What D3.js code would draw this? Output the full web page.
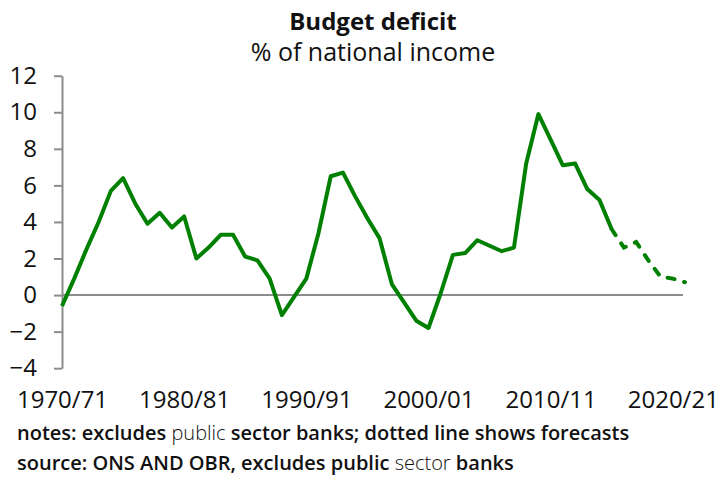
<!DOCTYPE html>
<html>
<head>
<meta charset="utf-8">
<script src="https://cdn.jsdelivr.net/npm/d3@7"></script>
<style>
  body { margin: 0; background: #fff; }
  text { font-family: "Open Sans", sans-serif; fill: #111; }
</style>
</head>
<body>
<div id="chart"></div>
<script>
// financial years, labelled by their first calendar year (1970 = 1970/71)
var years = d3.range(1970, 2022);

// outturn, 1970/71 - 2015/16
var actual = [
  -0.6, 0.9, 2.5, 4.0, 5.7, 6.4, 5.0, 3.9, 4.5, 3.7,
  4.3, 2.0, 2.6, 3.3, 3.3, 2.1, 1.9, 0.9, -1.1, -0.1,
  0.9, 3.4, 6.5, 6.7, 5.4, 4.2, 3.1, 0.6, -0.4, -1.4,
  -1.8, 0.1, 2.2, 2.3, 3.0, 2.7, 2.4, 2.6, 7.2, 9.9,
  8.5, 7.1, 7.2, 5.8, 5.2, 3.6
];

// OBR forecast, 2015/16 (joins the outturn) - 2021/22
var forecast = [3.6, 2.6, 2.9, 1.9, 1.0, 0.9, 0.7];

var yTicks = [-4, -2, 0, 2, 4, 6, 8, 10, 12];
var xTicks = [1970, 1980, 1990, 2000, 2010, 2020];

var width = 717,
  height = 481;

var svg = d3.select("#chart").append("svg")
  .attr("width", width)
  .attr("height", height);

var x = d3.scaleLinear().domain([1970, 2021]).range([62, 685]),
  y = d3.scaleLinear().domain([-4, 12]).range([368.2, 75.7]);

// titles
svg.append("text")
  .attr("x", 373).attr("y", 30)
  .attr("text-anchor", "middle")
  .style("font-size", "24px")
  .style("font-weight", "700")
  .text("Budget deficit");

svg.append("text")
  .attr("x", 373).attr("y", 61)
  .attr("text-anchor", "middle")
  .style("font-size", "25px")
  .text("% of national income");

// y axis
var yAxis = svg.append("g")
  .attr("transform", "translate(" + x(1970) + ",0)")
  .call(d3.axisLeft(y).tickValues(yTicks).tickSize(8).tickPadding(17).tickSizeOuter(0));

yAxis.selectAll("path, line").attr("stroke", "#8c8c8c").attr("stroke-width", 2);
yAxis.selectAll("text")
  .style("font-size", "24px")
  .style("font-family", "'Open Sans', sans-serif")
  .attr("fill", "#111");

// zero line
svg.append("line")
  .attr("x1", x(1970)).attr("x2", 683)
  .attr("y1", y(0)).attr("y2", y(0))
  .attr("stroke", "#8c8c8c")
  .attr("stroke-width", 2);

// x labels, no ticks
var xAxis = svg.append("g")
  .attr("transform", "translate(0,391)")
  .call(d3.axisBottom(x).tickValues(xTicks).tickSize(0).tickPadding(0)
    .tickFormat(function(d) {
      return d + "/" + d3.format("02")((d + 1) % 100);
    }));

xAxis.select(".domain").remove();
xAxis.selectAll("text")
  .style("font-size", "24px")
  .style("font-family", "'Open Sans', sans-serif")
  .attr("fill", "#111");

// lines
var line = d3.line()
  .x(function(d) { return x(d[0]); })
  .y(function(d) { return y(d[1]); });

var actualPts = actual.map(function(v, i) { return [years[i], v]; });
var forecastPts = forecast.map(function(v, i) { return [years[actual.length - 1 + i], v]; });

svg.append("path")
  .datum(actualPts)
  .attr("d", line)
  .attr("fill", "none")
  .attr("stroke", "#008000")
  .attr("stroke-width", 4)
  .attr("stroke-linejoin", "round");

svg.append("path")
  .datum(forecastPts)
  .attr("d", line)
  .attr("fill", "none")
  .attr("stroke", "#008000")
  .attr("stroke-width", 4)
  .attr("stroke-linecap", "round")
  .attr("stroke-dasharray", "7,10");

// notes
var notes = svg.append("text")
  .attr("x", 17).attr("y", 440)
  .style("font-size", "20px");
notes.append("tspan").style("font-weight", "600").text("notes: excludes ");
notes.append("tspan").style("font-weight", "300").text("public ");
notes.append("tspan").style("font-weight", "600").text("sector banks; dotted line shows forecasts");

var source = svg.append("text")
  .attr("x", 17).attr("y", 470)
  .style("font-size", "20px");
source.append("tspan").style("font-weight", "600").text("source: ONS AND OBR, excludes public ");
source.append("tspan").style("font-weight", "300").text("sector ");
source.append("tspan").style("font-weight", "600").text("banks");
</script>
</body>
</html>
